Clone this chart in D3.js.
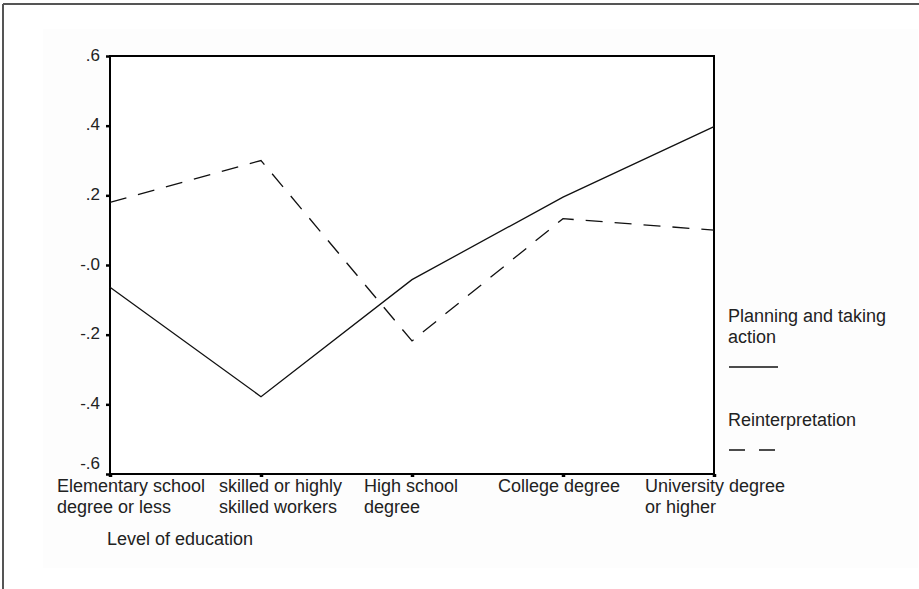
<!DOCTYPE html>
<html>
<head>
<meta charset="utf-8">
<script src="https://cdn.jsdelivr.net/npm/d3@7"></script>
<style>
  body { margin: 0; background: #fff; }
  svg { display: block; font-family: "Liberation Sans", Arial, sans-serif; }
</style>
</head>
<body>
<svg id="chart" width="919" height="589"></svg>
<script>
// categories, each split into its printed lines
const categories = [
  ["Elementary school", "degree or less"],
  ["skilled or highly", "skilled workers"],
  ["High school", "degree"],
  ["College degree"],
  ["University degree", "or higher"]
];
const planning = [-0.064, -0.378, -0.042, 0.195, 0.397];
const reinterpretation = [0.18, 0.30, -0.218, 0.133, 0.10];
const yTicks = [0.6, 0.4, 0.2, 0, -0.2, -0.4, -0.6];
const yTickLabels = [".6", ".4", ".2", "-.0", "-.2", "-.4", "-.6"];
const seriesNames = [["Planning and taking", "action"], ["Reinterpretation"]];

// label start relative to its tick (layout only)
const labelShift = [-53, -42, -48, -65, -69];

const margin = { left: 110, top: 56, right: 205, bottom: 115 };
const width = 919 - margin.left - margin.right;
const height = 589 - margin.top - margin.bottom;

const svg = d3.select("#chart");

// outer frame (only top and left edges visible)
svg.append("rect").attr("x", 43).attr("y", 29).attr("width", 875).attr("height", 539)
  .attr("fill", "#fdfdfd");
svg.append("line").attr("x1", 3).attr("x2", 3).attr("y1", 4).attr("y2", 589)
  .attr("stroke", "#555").attr("stroke-width", 2);
svg.append("line").attr("x1", 3).attr("x2", 919).attr("y1", 4).attr("y2", 4)
  .attr("stroke", "#555").attr("stroke-width", 2);

const g = svg.append("g")
  .attr("transform", "translate(" + margin.left + "," + margin.top + ")");

const keys = categories.map(function(d) { return d.join(" "); });

const x = d3.scalePoint()
  .domain(keys)
  .range([0, width]);

const y = d3.scaleLinear()
  .domain([-0.6, 0.6])
  .range([height, 0]);

g.append("rect")
  .attr("width", width)
  .attr("height", height)
  .attr("fill", "#fff")
  .attr("stroke", "#000")
  .attr("stroke-width", 2);

const yAxis = d3.axisLeft(y)
  .tickValues(yTicks)
  .tickFormat(function(d, i) { return yTickLabels[i]; })
  .tickSize(4)
  .tickPadding(6);

const gy = g.append("g").call(yAxis);
gy.select(".domain").remove();
gy.selectAll("line").attr("stroke-width", 2.5);
gy.selectAll("text")
  .attr("fill", "#222")
  .attr("dy", function(d) { return d === -0.6 ? "-0.3em" : "0.25em"; })
  .style("font-size", "17px")
  .style("font-family", "'Liberation Sans', Arial, sans-serif");

const xAxis = d3.axisBottom(x).tickSize(3).tickFormat("");
const gx = g.append("g").attr("transform", "translate(0," + height + ")").call(xAxis);
gx.select(".domain").remove();
gx.selectAll("line").attr("stroke-width", 3.5);

// multi-line category labels
const labels = g.append("g")
  .selectAll("text")
  .data(categories)
  .enter()
  .append("text")
  .attr("x", function(d, i) { return x(keys[i]) + labelShift[i]; })
  .attr("y", height + 18)
  .attr("fill", "#222")
  .style("font-size", "18px");
labels.selectAll("tspan")
  .data(function(d, i) { return d.map(function(t) { return { t: t, i: i }; }); })
  .enter()
  .append("tspan")
  .attr("x", function(d) { return x(keys[d.i]) + labelShift[d.i]; })
  .attr("dy", function(d, j) { return j === 0 ? 0 : 21; })
  .text(function(d) { return d.t; });

g.append("text")
  .attr("x", -3)
  .attr("y", height + 71)
  .attr("fill", "#222")
  .style("font-size", "18px")
  .text("Level of education");

const line = d3.line()
  .x(function(d, i) { return x(keys[i]); })
  .y(function(d) { return y(d); });

g.append("path")
  .datum(planning)
  .attr("fill", "none")
  .attr("stroke", "#111")
  .attr("stroke-width", 1.3)
  .attr("d", line);

g.append("path")
  .datum(reinterpretation)
  .attr("fill", "none")
  .attr("stroke", "#111")
  .attr("stroke-width", 1.3)
  .attr("stroke-dasharray", "17,12")
  .attr("d", line);

// legend
const legend = svg.append("g").attr("transform", "translate(728,0)");
const dashes = [null, "16,14"];
const legendTop = [322, 426];
seriesNames.forEach(function(name, k) {
  const t = legend.append("text")
    .attr("y", legendTop[k])
    .attr("fill", "#222")
    .style("font-size", "18px");
  name.forEach(function(s, j) {
    t.append("tspan").attr("x", 0).attr("dy", j === 0 ? 0 : 21).text(s);
  });
  legend.append("line")
    .attr("x1", 1).attr("x2", 50)
    .attr("y1", legendTop[k] + 21 * (name.length - 1) + 24)
    .attr("y2", legendTop[k] + 21 * (name.length - 1) + 24)
    .attr("stroke", "#111")
    .attr("stroke-width", 1.5)
    .attr("stroke-dasharray", dashes[k]);
});
</script>
</body>
</html>
